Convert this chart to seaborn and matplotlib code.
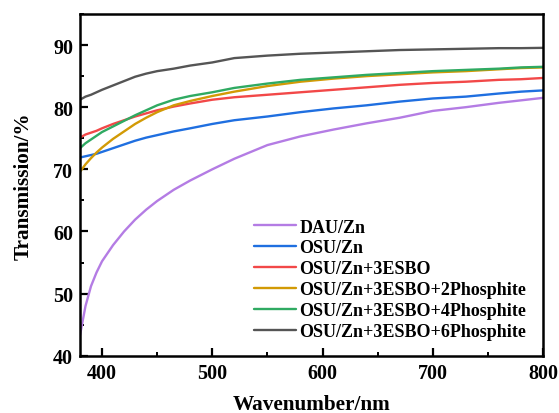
import numpy as np
import pandas as pd
import matplotlib
matplotlib.use("Agg")
import matplotlib.pyplot as plt
from matplotlib.ticker import MultipleLocator
import seaborn as sns

wavelength = [380, 385, 390, 395, 400, 410, 420, 430, 440, 450, 465, 480, 500,
              520, 550, 580, 610, 640, 670, 700, 730, 760, 780, 800]

dau_zn = [43.3, 48.0, 51.2, 53.4, 55.2, 57.8, 60.0, 61.9, 63.5, 64.9, 66.7, 68.2, 70.0,
          71.7, 73.9, 75.3, 76.4, 77.4, 78.3, 79.4, 80.0, 80.7, 81.1, 81.5]
osu_zn = [71.9, 72.1, 72.3, 72.5, 72.8, 73.4, 74.0, 74.6, 75.1, 75.5, 76.1, 76.6, 77.3,
          77.9, 78.5, 79.2, 79.8, 80.3, 80.9, 81.4, 81.7, 82.2, 82.5, 82.7]
osu_esbo = [75.1, 75.6, 75.9, 76.2, 76.6, 77.3, 77.9, 78.5, 79.0, 79.5, 80.1, 80.6, 81.2,
            81.6, 82.0, 82.4, 82.8, 83.2, 83.6, 83.9, 84.1, 84.4, 84.5, 84.7]
osu_esbo_2p = [69.6, 70.8, 71.8, 72.7, 73.5, 74.9, 76.1, 77.3, 78.3, 79.2, 80.3, 81.0, 81.8,
               82.5, 83.4, 84.1, 84.6, 85.0, 85.3, 85.6, 85.8, 86.1, 86.3, 86.4]
osu_esbo_4p = [73.4, 74.2, 74.8, 75.4, 76.0, 76.9, 77.8, 78.7, 79.5, 80.3, 81.2, 81.8, 82.4,
               83.1, 83.8, 84.4, 84.8, 85.2, 85.5, 85.8, 86.0, 86.2, 86.4, 86.5]
osu_esbo_6p = [81.2, 81.7, 82.0, 82.4, 82.8, 83.5, 84.2, 84.9, 85.4, 85.8, 86.2, 86.7, 87.2,
               87.9, 88.3, 88.6, 88.8, 89.0, 89.2, 89.3, 89.4, 89.5, 89.5, 89.55]

labels = ["DAU/Zn", "OSU/Zn", "OSU/Zn+3ESBO", "OSU/Zn+3ESBO+2Phosphite",
          "OSU/Zn+3ESBO+4Phosphite", "OSU/Zn+3ESBO+6Phosphite"]
series = [dau_zn, osu_zn, osu_esbo, osu_esbo_2p, osu_esbo_4p, osu_esbo_6p]
colors = ["#B47CE4", "#1F6FE0", "#F24848", "#D29A05", "#2FAA62", "#555555"]

rows = []
for lab, vals in zip(labels, series):
    for w, v in zip(wavelength, vals):
        rows.append({"Wavelength": w, "Transmission": v, "Sample": lab})
df = pd.DataFrame(rows)

sns.set_theme(style="ticks")
plt.rcParams["font.family"] = ["Liberation Serif", "DejaVu Serif"]
plt.rcParams["font.weight"] = "bold"

fig = plt.figure(figsize=(5.59, 4.14), dpi=100)
ax = fig.add_axes([0.1431, 0.1384, 0.8283, 0.8254])

sns.lineplot(data=df, x="Wavelength", y="Transmission", hue="Sample",
             hue_order=labels, palette=colors, linewidth=1.7, ax=ax)

ax.set_xlim(380, 800)
ax.set_ylim(40, 95)
ax.xaxis.set_major_locator(MultipleLocator(100))
ax.xaxis.set_minor_locator(MultipleLocator(50))
ax.yaxis.set_major_locator(MultipleLocator(10))
ax.yaxis.set_minor_locator(MultipleLocator(5))
ax.tick_params(axis="both", which="major", direction="in", length=6, width=1.6,
               labelsize=14.5, color="black", labelcolor="black")
ax.tick_params(axis="x", which="major", pad=5)
ax.tick_params(axis="y", which="major", pad=5)
ax.tick_params(axis="both", which="minor", direction="in", length=3, width=1.4,
               color="black")
for lab in ax.get_xticklabels() + ax.get_yticklabels():
    lab.set_fontweight("bold")
for sp in ax.spines.values():
    sp.set_linewidth(1.8)
    sp.set_color("black")
    sp.set_visible(True)

ax.set_xlabel("Wavenumber/nm", fontsize=15.3, fontweight="bold", color="black", labelpad=8)
ax.set_ylabel("Transmission/%", fontsize=15.3, fontweight="bold", color="black", labelpad=14)

leg = ax.legend(loc="upper left", bbox_to_anchor=(0.3766, 0.4015), frameon=False,
                prop={"weight": "bold", "size": 13}, handlelength=2.28,
                handletextpad=0.22, labelspacing=0.22, borderpad=0, borderaxespad=0)
for t in leg.get_texts():
    t.set_color("black")

fig.savefig("out.png", dpi=100)
